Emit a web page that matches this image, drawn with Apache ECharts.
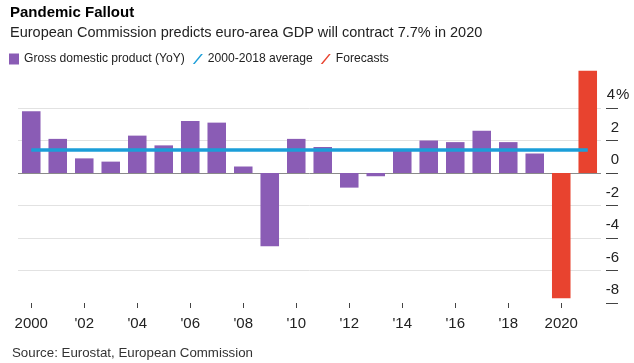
<!DOCTYPE html>
<html>
<head>
<meta charset="utf-8">
<script src="https://cdn.jsdelivr.net/npm/echarts@6/dist/echarts.min.js"></script>
<style>
html,body{margin:0;padding:0;background:#fff;}
#c{width:634px;height:363px;}
</style>
</head>
<body>
<div id="c"></div>
<script>
var categories = ['2000','2001','2002','2003','2004','2005','2006','2007','2008','2009','2010','2011','2012','2013','2014','2015','2016','2017','2018','2019','2020','2021'];
var xTickLabels = ['2000','',"'02",'',"'04",'',"'06",'',"'08",'',"'10",'',"'12",'',"'14",'',"'16",'',"'18",'','2020',''];
var gdpValues = [3.8, 2.1, 0.9, 0.7, 2.3, 1.7, 3.2, 3.1, 0.4, -4.5, 2.1, 1.6, -0.9, -0.2, 1.4, 2.0, 1.9, 2.6, 1.9, 1.2, null, null];
var forecastValues = [null, null, null, null, null, null, null, null, null, null, null, null, null, null, null, null, null, null, null, null, -7.7, 6.3];
var averageValue = 1.45;
var yTicks = [-8, -6, -4, -2, 0, 2, 4];

var FONT = '"Liberation Sans", Arial, Helvetica, sans-serif';
var chart = echarts.init(document.getElementById('c'), null, {renderer: 'canvas'});
var option = {
  animation: false,
  backgroundColor: '#ffffff',
  textStyle: {fontFamily: FONT},
  title: [
    {text: 'Pandemic Fallout', left: 10, top: 5, padding: 0, textStyle: {fontFamily: FONT, fontSize: 15, fontWeight: 'bold', color: '#000'}},
    {text: 'European Commission predicts euro-area GDP will contract 7.7% in 2020', left: 10, top: 25, padding: 0, textStyle: {fontFamily: FONT, fontSize: 14.5, fontWeight: 'normal', color: '#222'}},
    {text: 'Source: Eurostat, European Commission', left: 12, top: 347, padding: 0, textStyle: {fontFamily: FONT, fontSize: 13.3, fontWeight: 'normal', color: '#333'}}
  ],
  legend: {
    left: 9, top: 53, padding: 0, itemGap: 8, itemWidth: 10, itemHeight: 11,
    textStyle: {fontFamily: FONT, fontSize: 12.1, color: '#222'},
    data: [
      {name: 'Gross domestic product (YoY)', icon: 'rect'},
      {name: '2000-2018 average', icon: 'path://M0,12 L2.2,12 L12,0 L9.8,0 Z'},
      {name: 'Forecasts', icon: 'path://M0,12 L2.2,12 L12,0 L9.8,0 Z'}
    ]
  },
  grid: {left: 18, width: 583, top: 108, bottom: 60, containLabel: false},
  xAxis: {
    type: 'category', data: categories, position: 'bottom',
    axisLine: {show: false, onZero: false},
    axisTick: {show: true, interval: 1, alignWithLabel: true, length: 5, lineStyle: {color: '#444'}},
    axisLabel: {interval: 1, margin: 13, fontSize: 15, color: '#222', fontFamily: FONT,
      formatter: function (v, i) { return xTickLabels[i]; }},
    splitLine: {show: false}
  },
  yAxis: {
    type: 'value', position: 'right', offset: 5, min: -8, max: 4, interval: 2,
    axisLine: {show: false},
    axisTick: {show: true, length: 12, lineStyle: {color: '#444'}},
    axisLabel: {
      margin: 0, verticalAlign: 'bottom', padding: [0, 0, 5, 0], color: '#222', fontFamily: FONT, fontSize: 15,
      formatter: function (v) { return v === yTicks[yTicks.length - 1] ? '{m|' + v + '}{p|%}' : '{n|' + v + '}'; },
      rich: {
        n: {width: 13, align: 'right', fontSize: 15, color: '#222', fontFamily: FONT, lineHeight: 16},
        m: {width: 10, align: 'right', fontSize: 15, color: '#222', fontFamily: FONT, lineHeight: 16},
        p: {fontSize: 15, color: '#222', fontFamily: FONT, lineHeight: 16}
      }
    },
    splitLine: {show: true, lineStyle: {color: ['rgba(0,0,0,0)', '#e2e2e2', '#e2e2e2', '#e2e2e2', '#8a8a8a', '#e2e2e2', '#e2e2e2'], width: 1}}
  },
  series: [
    {name: 'Gross domestic product (YoY)', type: 'bar', data: gdpValues, barCategoryGap: '30%', barGap: '-100%', clip: false,
      itemStyle: {color: '#8a5cb5'}, z: 2},
    {name: 'Forecasts', type: 'bar', data: forecastValues, barCategoryGap: '30%', barGap: '-100%', clip: false,
      itemStyle: {color: '#e8432f'}, z: 2},
    {name: '2000-2018 average', type: 'line', data: [], itemStyle: {color: '#1b9ed8'}, lineStyle: {color: '#1b9ed8'},
      markLine: {silent: true, symbol: ['none', 'none'], label: {show: false},
        lineStyle: {color: '#1b9ed8', width: 3.5, type: 'solid'},
        data: [[{coord: [categories[0], averageValue]}, {coord: [categories[categories.length - 1], averageValue]}]]},
      z: 5}
  ]
};
chart.setOption(option);
</script>
</body>
</html>
